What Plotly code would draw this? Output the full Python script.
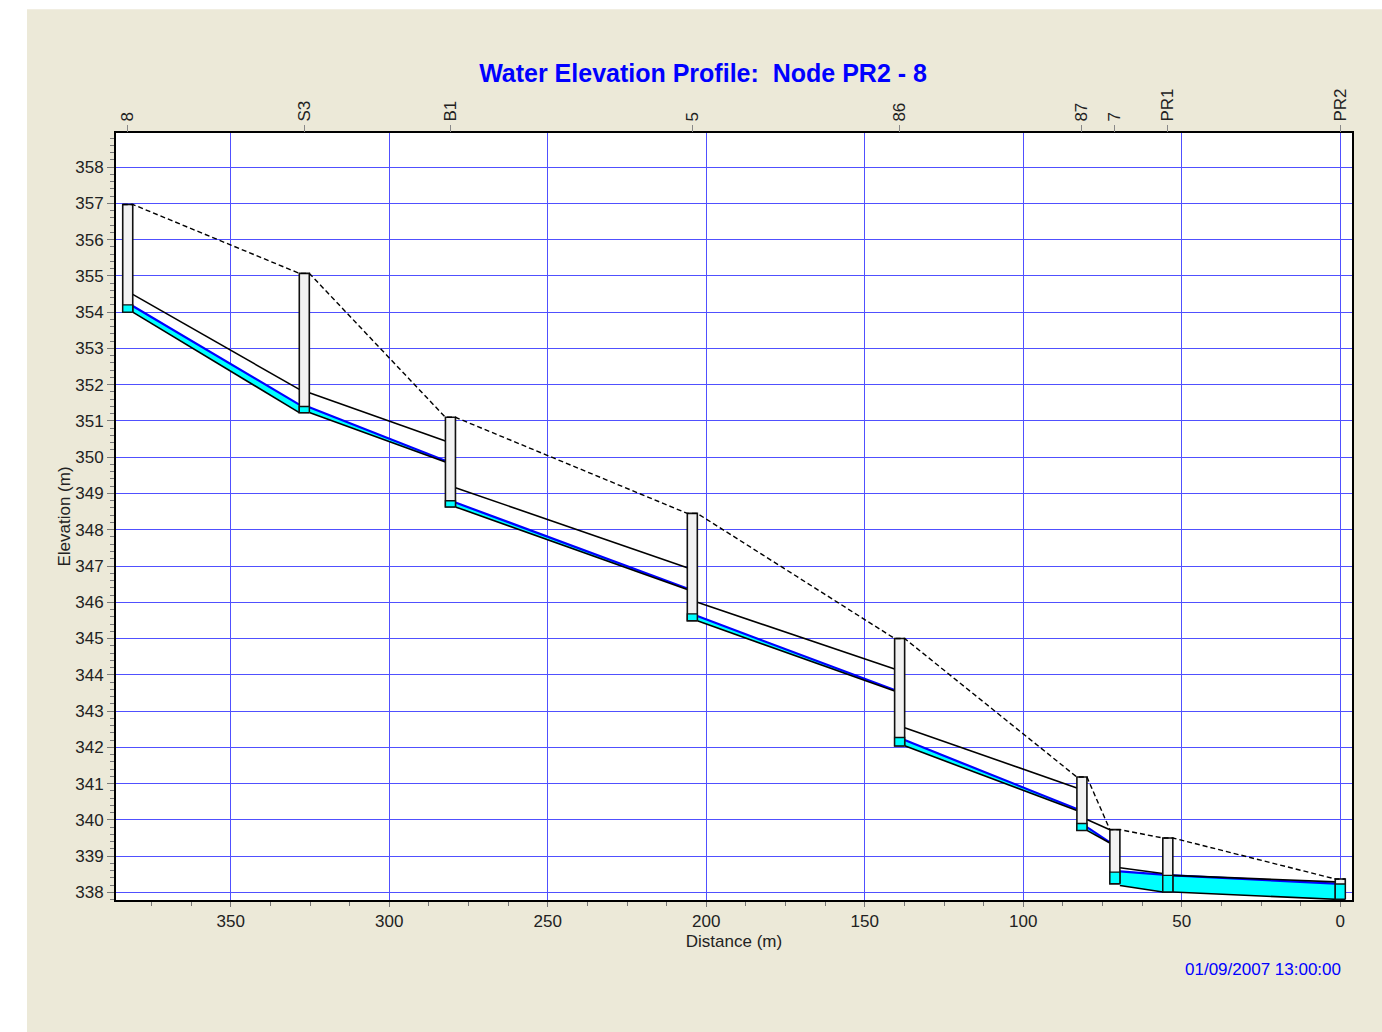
import plotly.graph_objects as go

# ---------------- data ----------------
nodes = ["8", "S3", "B1", "5", "86", "87", "7", "PR1", "PR2"]
node_dist = [382.5, 326.8, 280.7, 204.4, 139.0, 81.5, 71.1, 54.4, 0.0]
node_invert = [354.00, 351.23, 348.63, 345.49, 342.04, 339.71, 338.24, 338.01, 337.81]
node_rim = [356.97, 355.07, 351.10, 348.45, 345.00, 341.18, 339.73, 339.50, 338.37]
node_water = [354.20, 351.40, 348.80, 345.68, 342.27, 339.90, 338.56, 338.47, 338.23]

# conduits (upstream node i -> downstream node i+1)
up_invert = [354.00, 351.23, 348.63, 345.49, 342.04, 339.71, 338.19, 338.01]
dn_invert = [351.23, 349.87, 346.35, 343.55, 340.26, 339.36, 338.01, 337.81]
up_crown = [354.49, 351.78, 349.16, 346.00, 342.54, 340.01, 338.68, 338.47]
dn_crown = [351.87, 350.45, 346.95, 344.16, 340.88, 339.73, 338.52, 338.29]
up_water = [354.17, 351.38, 348.75, 345.62, 342.20, 339.80, 338.58, 338.47]
dn_water = [351.45, 349.90, 346.38, 343.58, 340.30, 339.38, 338.49, 338.24]

title_text = "Water Elevation Profile:  Node PR2 - 8"
date_text = "01/09/2007 13:00:00"

# ---------------- style ----------------
HW = 1.58  # half width of node box (distance units)
FONT = "Liberation Sans, Arial, sans-serif"
CYAN = "#00FFFF"
BLUE = "#0000FF"
GRID = "#5050FF"
BEIGE = "#ECE9D8"

fig = go.Figure()

n_links = len(up_invert)

# conduit water
for i in range(n_links):
    xu = node_dist[i] - HW
    xd = node_dist[i + 1] + HW
    fig.add_trace(go.Scatter(
        x=[xu, xd, xd, xu, xu],
        y=[up_invert[i], dn_invert[i], dn_water[i], up_water[i], up_invert[i]],
        mode="none", fill="toself", fillcolor=CYAN,
        hoverinfo="skip", showlegend=False))

# water surface lines
for i in range(n_links):
    xu = node_dist[i] - HW
    xd = node_dist[i + 1] + HW
    fig.add_trace(go.Scatter(
        x=[xu, xd], y=[up_water[i], dn_water[i]], mode="lines",
        line=dict(color=BLUE, width=2.2), hoverinfo="skip", showlegend=False))

# conduit crown and invert
for i in range(n_links):
    xu = node_dist[i] - HW
    xd = node_dist[i + 1] + HW
    fig.add_trace(go.Scatter(
        x=[xu, xd], y=[up_crown[i], dn_crown[i]], mode="lines",
        line=dict(color="black", width=1.6), hoverinfo="skip", showlegend=False))
    fig.add_trace(go.Scatter(
        x=[xu, xd], y=[up_invert[i], dn_invert[i]], mode="lines",
        line=dict(color="black", width=1.6), hoverinfo="skip", showlegend=False))

# node boxes
for i in range(len(nodes)):
    x0 = node_dist[i] - HW
    x1 = node_dist[i] + HW
    fig.add_trace(go.Scatter(
        x=[x0, x1, x1, x0, x0],
        y=[node_invert[i], node_invert[i], node_rim[i], node_rim[i], node_invert[i]],
        mode="lines", fill="toself", fillcolor="#F2F2F2",
        line=dict(color="#111111", width=1.6),
        hoverinfo="skip", showlegend=False))
    fig.add_trace(go.Scatter(
        x=[x0, x1, x1, x0, x0],
        y=[node_invert[i], node_invert[i], node_water[i], node_water[i], node_invert[i]],
        mode="lines", fill="toself", fillcolor=CYAN,
        line=dict(color="#111111", width=1.4),
        hoverinfo="skip", showlegend=False))

# ground (rim) dashed profile
gx, gy = [], []
for i in range(len(nodes)):
    gx += [node_dist[i] + HW, node_dist[i] - HW]
    gy += [node_rim[i], node_rim[i]]
fig.add_trace(go.Scatter(
    x=gx, y=gy, mode="lines", xaxis="x2",
    line=dict(color="black", width=1.4, dash="5px,3px"),
    hoverinfo="skip", showlegend=False))

XR = [386.2, -3.7]
YR = [337.79, 358.94]

tickfont = dict(family=FONT, size=17, color="#222222")

fig.update_layout(
    width=1382, height=1032,
    margin=dict(l=116, r=30, t=133, b=132),
    paper_bgcolor=BEIGE, plot_bgcolor="white",
    font=dict(family=FONT, size=17, color="#222222"),
    title=dict(text="<b>" + title_text + "</b>",
               font=dict(family=FONT, size=25, color=BLUE),
               x=0.5087, xref="container", xanchor="center",
               y=1 - 73 / 1032, yref="container", yanchor="middle"),
    xaxis=dict(
        range=XR, tick0=0, dtick=50, showgrid=True, gridcolor=GRID, gridwidth=1,
        zeroline=False, showline=True, linecolor="black", linewidth=2, mirror=True,
        ticks="outside", ticklen=5, tickcolor="#777777", tickfont=tickfont,
        minor=dict(dtick=12.5, tick0=0, ticks="outside", ticklen=4, tickcolor="#777777", showgrid=False),
        title=dict(text="Distance (m)", font=dict(family=FONT, size=17, color="#222222"), standoff=5),
    ),
    xaxis2=dict(
        range=XR, overlaying="x", side="top", tickmode="array",
        tickvals=node_dist, ticktext=nodes, tickangle=-90,
        showgrid=False, zeroline=False, showline=False,
        ticks="outside", ticklen=7, tickcolor="#888888", tickfont=tickfont,
    ),
    yaxis=dict(
        range=YR, tick0=338, dtick=1, showgrid=True, gridcolor=GRID, gridwidth=1,
        zeroline=False, showline=True, linecolor="black", linewidth=2, mirror=True,
        ticks="outside", ticklen=7, tickcolor="#777777", tickfont=tickfont,
        minor=dict(dtick=0.2, tick0=338, ticks="outside", ticklen=4, tickcolor="#777777", showgrid=False),
        title=dict(text="Elevation (m)", font=dict(family=FONT, size=17, color="#222222"), standoff=0),
    ),
    annotations=[dict(
        text=date_text, xref="paper", yref="paper",
        x=(1343 - 116) / 1236, y=(900 - 970) / 768,
        xanchor="right", yanchor="middle", showarrow=False,
        font=dict(family=FONT, size=17, color=BLUE))],
    shapes=[
        dict(type="rect", xref="paper", yref="paper", layer="below",
             x0=-0.2, x1=(27 - 116) / 1236, y0=-0.3, y1=1.3,
             fillcolor="white", line=dict(width=0)),
        dict(type="rect", xref="paper", yref="paper", layer="below",
             x0=-0.2, x1=1.2, y0=(900 - 8) / 768, y1=1.3,
             fillcolor="white", line=dict(width=0)),
    ],
)

fig.write_html("out.html")
